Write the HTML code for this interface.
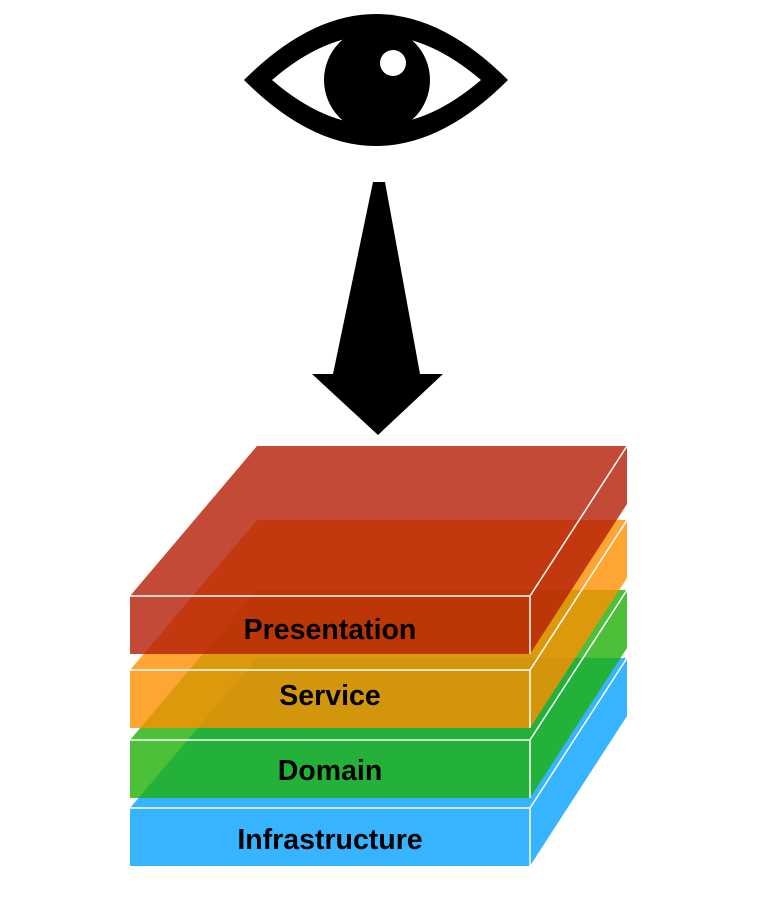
<!DOCTYPE html>
<html><head><meta charset="utf-8"><style>
html,body{margin:0;padding:0;background:#fff;width:778px;height:904px;overflow:hidden}
svg{display:block}
text{font-family:"Liberation Sans",Arial,sans-serif;font-weight:bold;font-size:28.5px;fill:#000}
</style></head><body>
<svg width="778" height="904" viewBox="0 0 778 904" xmlns="http://www.w3.org/2000/svg">
<path d="M244,80 Q376,-52 508,80 Q376,212 244,80 Z" fill="#000"/>
<path d="M272,80 Q376,-10 481,80 Q376,170 272,80 Z" fill="#fff"/>
<circle cx="377" cy="80" r="53" fill="#000"/>
<circle cx="393" cy="63" r="13" fill="#fff"/>
<polygon points="373,182 385,182 420,374 443,374 378,435 312,374 333,374" fill="#000"/>
<g>
<polygon points="130,808 257,658 627,658 627,716 530,866 130,866" fill="#36b4ff"/>
<polyline points="130,808 530,808 627,658" fill="none" stroke="#fff" stroke-width="1.5"/>
<line x1="530" y1="808" x2="530" y2="866" stroke="#fff" stroke-width="1.5"/>
</g>
<g>
<polygon points="130,740 257,590 627,590 627,648 530,798 130,798" fill="rgb(33,176,9)" fill-opacity="0.8"/>
<polyline points="130,740 530,740 627,590" fill="none" stroke="#fff" stroke-width="1.5"/>
<line x1="530" y1="740" x2="530" y2="798" stroke="#fff" stroke-width="1.5"/>
</g>
<g>
<polygon points="130,670 257,520 627,520 627,578 530,728 130,728" fill="rgb(255,142,0)" fill-opacity="0.8"/>
<polyline points="130,670 530,670 627,520" fill="none" stroke="#fff" stroke-width="1.5"/>
<line x1="530" y1="670" x2="530" y2="728" stroke="#fff" stroke-width="1.5"/>
</g>
<g>
<polygon points="130,596 257,446 627,446 627,504 530,654 130,654" fill="rgb(181,29,6)" fill-opacity="0.8"/>
<polyline points="130,596 530,596 627,446" fill="none" stroke="#fff" stroke-width="1.5"/>
<line x1="530" y1="596" x2="530" y2="654" stroke="#fff" stroke-width="1.5"/>
</g>
<text x="330" y="639" text-anchor="middle">Presentation</text>
<text x="330" y="705" text-anchor="middle">Service</text>
<text x="330" y="780" text-anchor="middle">Domain</text>
<text x="330" y="849" text-anchor="middle">Infrastructure</text>
</svg>
</body></html>
